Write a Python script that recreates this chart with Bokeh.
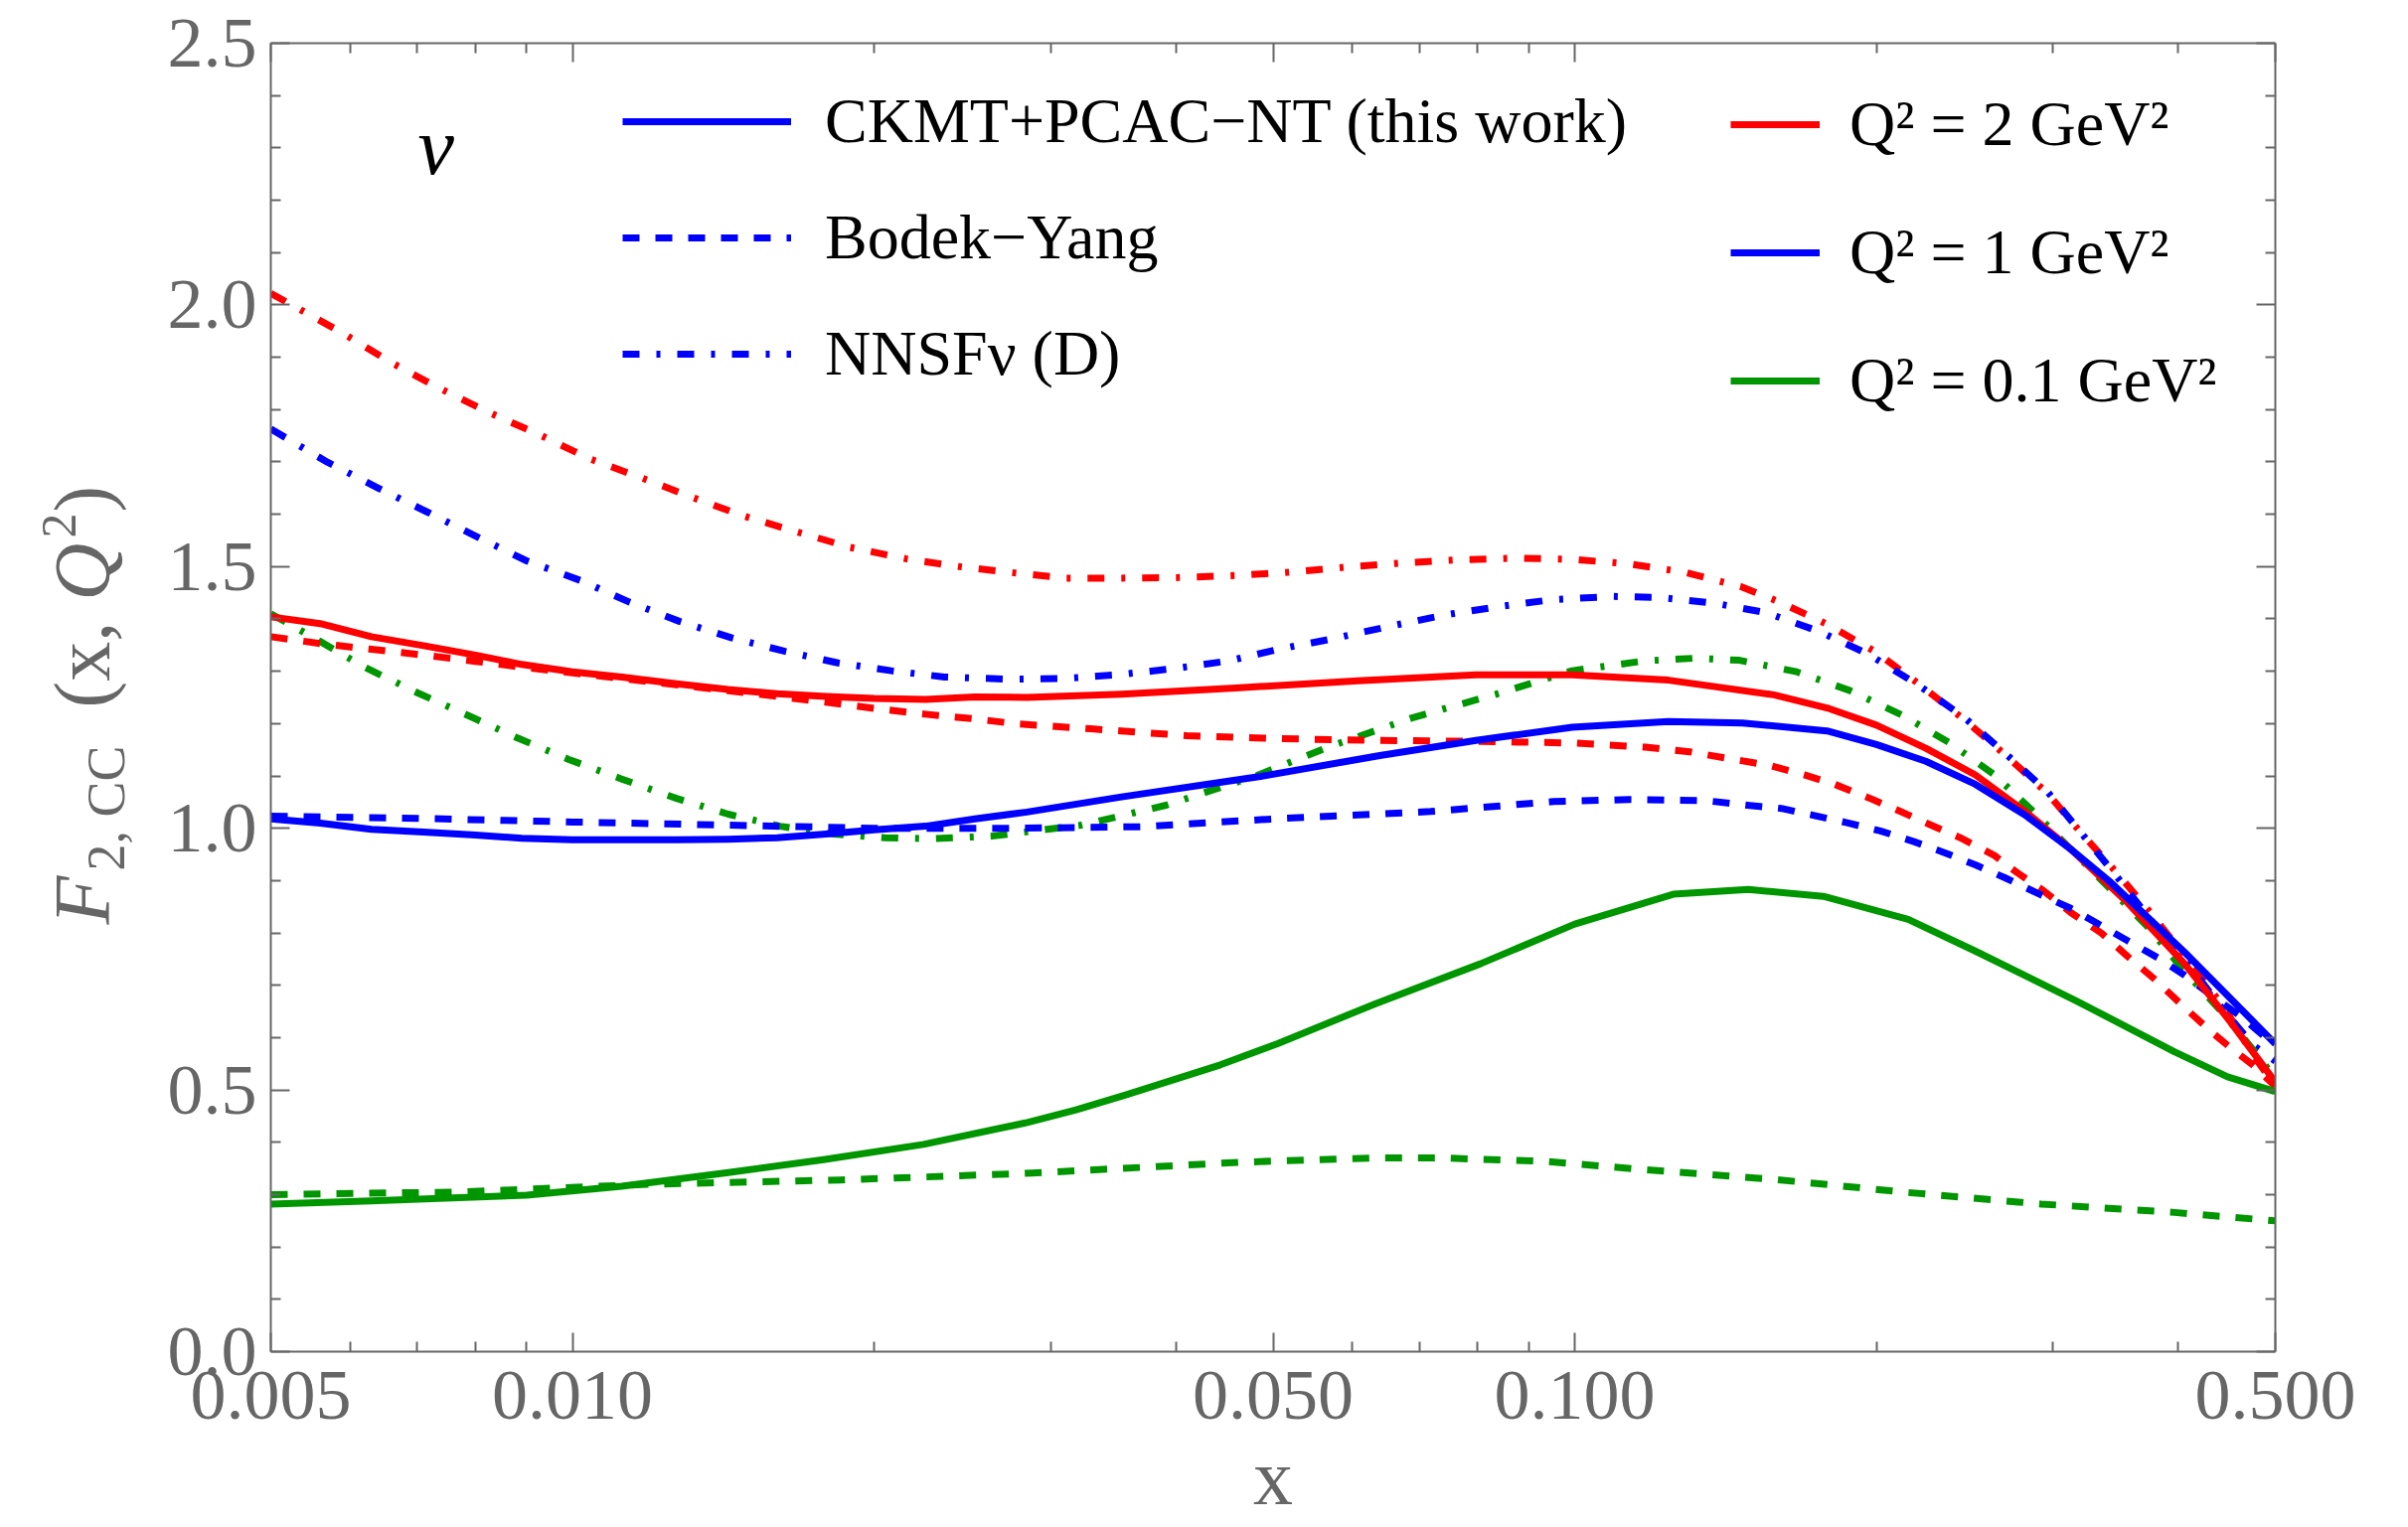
from bokeh.plotting import figure
from bokeh.layouts import row
from bokeh.models import (Range1d, LogAxis, LinearAxis, FixedTicker, PrintfTickFormatter,
                          Legend, LegendItem, Label)
from bokeh.core.properties import value
from bokeh.embed import file_html
from bokeh.resources import INLINE
from math import pi

# ---------------- data ----------------
# CKMT+PCAC-NT (solid)
x_ckmt_q2 = [0.005, 0.0056, 0.0063, 0.0071, 0.008, 0.0089, 0.01, 0.0112, 0.0127, 0.0143, 0.016, 0.0179,
             0.02, 0.0225, 0.0252, 0.0284, 0.0353, 0.0459, 0.0608, 0.0797, 0.0994, 0.124, 0.158, 0.1785,
             0.2, 0.224, 0.251, 0.281, 0.3125, 0.356, 0.406, 0.451, 0.5]
y_ckmt_q2 = [1.404, 1.391, 1.366, 1.349, 1.331, 1.313, 1.299, 1.289, 1.276, 1.265, 1.257, 1.252,
             1.248, 1.246, 1.251, 1.250, 1.256, 1.268, 1.282, 1.293, 1.293, 1.283, 1.255, 1.230,
             1.197, 1.153, 1.102, 1.033, 0.960, 0.858, 0.741, 0.630, 0.515]

x_ckmt_q1 = [0.005, 0.0056, 0.0063, 0.0071, 0.008, 0.0089, 0.01, 0.0127, 0.0143, 0.016, 0.0179, 0.02,
             0.0225, 0.0252, 0.0284, 0.0353, 0.0482, 0.0639, 0.0797, 0.0994, 0.124, 0.147, 0.1785, 0.2,
             0.224, 0.251, 0.281, 0.3125, 0.341, 0.372, 0.406, 0.451, 0.5]
y_ckmt_q1 = [1.018, 1.010, 0.998, 0.993, 0.987, 0.981, 0.978, 0.978, 0.979, 0.982, 0.989, 0.997,
             1.004, 1.018, 1.031, 1.060, 1.098, 1.139, 1.168, 1.193, 1.204, 1.201, 1.186, 1.160,
             1.128, 1.084, 1.026, 0.960, 0.900, 0.832, 0.763, 0.675, 0.588]

x_ckmt_q01 = [0.005, 0.0063, 0.009, 0.0112, 0.0143, 0.0178, 0.0224, 0.0283, 0.0318, 0.0357, 0.0443,
              0.0506, 0.0633, 0.0805, 0.1, 0.1254, 0.149, 0.177, 0.2151, 0.2506, 0.316, 0.3965, 0.448, 0.5]
y_ckmt_q01 = [0.282, 0.288, 0.299, 0.316, 0.342, 0.367, 0.396, 0.437, 0.462, 0.491, 0.548,
              0.589, 0.665, 0.741, 0.817, 0.874, 0.883, 0.870, 0.826, 0.766, 0.671, 0.573, 0.525, 0.497]

# Bodek-Yang (dashed)
x_by_q2 = [0.005, 0.0056, 0.0063, 0.0071, 0.008, 0.0089, 0.01, 0.0112, 0.0127, 0.0143, 0.016, 0.0179,
           0.02, 0.0225, 0.0252, 0.0276, 0.0329, 0.041, 0.0512, 0.0639, 0.0797, 0.0994, 0.1176, 0.1303,
           0.1447, 0.1566, 0.1694, 0.1817, 0.1966, 0.2108, 0.2261, 0.2424, 0.2623, 0.2764, 0.2939,
           0.3125, 0.3352, 0.3563, 0.3787, 0.4062, 0.4282, 0.4514, 0.4756, 0.5]
y_by_q2 = [1.366, 1.353, 1.342, 1.331, 1.319, 1.308, 1.297, 1.286, 1.274, 1.263, 1.252, 1.241,
           1.229, 1.218, 1.209, 1.200, 1.190, 1.177, 1.171, 1.168, 1.166, 1.163, 1.155, 1.146,
           1.131, 1.120, 1.102, 1.084, 1.058, 1.033, 1.007, 0.982, 0.948, 0.915, 0.880,
           0.839, 0.800, 0.755, 0.712, 0.657, 0.617, 0.580, 0.547, 0.507]

x_by_q1 = [0.005, 0.007, 0.01, 0.0143, 0.02, 0.0276, 0.0369, 0.0512, 0.0718, 0.0952, 0.1133, 0.135,
           0.1486, 0.1607, 0.1738, 0.1865, 0.2018, 0.2183, 0.2341, 0.251, 0.269, 0.291, 0.3125,
           0.3352, 0.3563, 0.3821, 0.4062, 0.4357, 0.463, 0.4924, 0.5]
y_by_q1 = [1.023, 1.019, 1.012, 1.006, 1.000, 1.000, 1.003, 1.019, 1.032, 1.051, 1.055, 1.053,
           1.044, 1.038, 1.024, 1.011, 0.995, 0.974, 0.953, 0.930, 0.905, 0.874, 0.847,
           0.814, 0.785, 0.752, 0.719, 0.675, 0.639, 0.595, 0.585]

x_by_q01 = [0.005, 0.0077, 0.012, 0.0185, 0.0287, 0.0464, 0.0633, 0.0738, 0.0928, 0.1167, 0.1585,
            0.2151, 0.2921, 0.3965, 0.5]
y_by_q01 = [0.300, 0.305, 0.320, 0.328, 0.341, 0.362, 0.370, 0.370, 0.364, 0.348, 0.329,
            0.304, 0.282, 0.266, 0.250]

# NNSFnu (D) (dot-dashed)
x_nn_q2 = [0.005, 0.0059, 0.00659, 0.00736, 0.00822, 0.00929, 0.0104, 0.01174, 0.01322, 0.0148,
           0.0167, 0.0189, 0.0215, 0.0243, 0.0276, 0.0311, 0.0353, 0.0402, 0.0459, 0.0517, 0.0592,
           0.0672, 0.0766, 0.0873, 0.0994, 0.1133, 0.1289, 0.1463, 0.1593, 0.1785, 0.2, 0.22,
           0.2446, 0.2693, 0.2965, 0.3208, 0.347, 0.3753, 0.4062, 0.4437, 0.4756, 0.5]
y_nn_q2 = [2.022, 1.946, 1.890, 1.841, 1.796, 1.751, 1.706, 1.669, 1.631, 1.597,
           1.567, 1.537, 1.515, 1.500, 1.488, 1.478, 1.478, 1.479, 1.483, 1.489, 1.499,
           1.507, 1.513, 1.516, 1.514, 1.505, 1.489, 1.462, 1.434, 1.390, 1.336, 1.277,
           1.208, 1.139, 1.066, 0.989, 0.916, 0.839, 0.755, 0.660, 0.566, 0.507]

x_nn_q1 = [0.005, 0.0057, 0.0064, 0.00715, 0.00805, 0.009, 0.0102, 0.0114, 0.0128, 0.0144, 0.0163,
           0.0184, 0.0208, 0.0235, 0.0272, 0.0308, 0.0348, 0.0398, 0.0452, 0.0506, 0.0573, 0.065,
           0.0744, 0.0843, 0.0952, 0.109, 0.1217, 0.1379, 0.1552, 0.1754, 0.1966, 0.22, 0.2446,
           0.2693, 0.2965, 0.3208, 0.347, 0.3753, 0.4062, 0.4437, 0.4756, 0.5]
y_nn_q1 = [1.763, 1.699, 1.650, 1.605, 1.556, 1.511, 1.473, 1.432, 1.395, 1.364, 1.338,
           1.316, 1.301, 1.289, 1.285, 1.286, 1.293, 1.305, 1.320, 1.342, 1.362, 1.385,
           1.408, 1.424, 1.437, 1.443, 1.441, 1.430, 1.412, 1.376, 1.332, 1.274, 1.212,
           1.142, 1.069, 0.989, 0.909, 0.825, 0.749, 0.653, 0.585, 0.555]

x_nn_q01 = [0.005, 0.0056, 0.0062, 0.007, 0.0079, 0.0088, 0.0099, 0.0112, 0.0127, 0.0143, 0.0161,
            0.0182, 0.0205, 0.0229, 0.0262, 0.0322, 0.0391, 0.0482, 0.0573, 0.0691, 0.0834, 0.0994,
            0.1176, 0.1318, 0.146, 0.1665, 0.1882, 0.2127, 0.2362, 0.2623, 0.2864, 0.3125, 0.341,
            0.372, 0.4062, 0.4437, 0.484, 0.5]
y_nn_q01 = [1.410, 1.357, 1.308, 1.259, 1.214, 1.173, 1.132, 1.094, 1.057, 1.027, 1.004,
            0.989, 0.982, 0.980, 0.985, 1.006, 1.044, 1.101, 1.158, 1.212, 1.256, 1.301,
            1.320, 1.325, 1.321, 1.299, 1.263, 1.215, 1.164, 1.102, 1.033, 0.960, 0.887,
            0.814, 0.726, 0.646, 0.558, 0.520]

x_ticks = [0.005, 0.01, 0.05, 0.1, 0.5]
x_minor = [0.006, 0.007, 0.008, 0.009, 0.02, 0.03, 0.04, 0.06, 0.07, 0.08, 0.09, 0.2, 0.3, 0.4]
y_ticks = [0.0, 0.5, 1.0, 1.5, 2.0, 2.5]
y_minor = [0.1, 0.2, 0.3, 0.4, 0.6, 0.7, 0.8, 0.9, 1.1, 1.2, 1.3, 1.4, 1.6, 1.7, 1.8, 1.9,
           2.1, 2.2, 2.3, 2.4]

model_labels = ["CKMT+PCAC\u2212NT (this work)", "Bodek\u2212Yang", "NNSF\u03bd (D)"]
q2_labels = ["Q\u00b2 = 2 GeV\u00b2", "Q\u00b2 = 1 GeV\u00b2", "Q\u00b2 = 0.1 GeV\u00b2"]

# ---------------- styling / layout ----------------
RED, BLUE, GREEN = "#ff0000", "#0000ff", "#009600"
GRAY = "#666666"
FONT = "Liberation Serif"
DASH = "17 16"
DOTDASH = "17 17 4 17"
LW = 7

W, H = 2423, 1537
LEFT_W = 150           # width of the strip holding the y title
FL, FR, FT, FB = 272, 2289, 43, 1360   # frame edges in page pixels

p = figure(width=W - LEFT_W, height=H, x_axis_type="log",
           x_range=Range1d(0.005, 0.5), y_range=Range1d(0.0, 2.5),
           output_backend="svg", toolbar_location=None,
           min_border_left=FL - LEFT_W, min_border_right=W - FR,
           min_border_top=FT, min_border_bottom=H - FB)
p.xgrid.visible = False
p.ygrid.visible = False
p.outline_line_color = None
p.background_fill_color = "white"
p.border_fill_color = "white"

xticker = FixedTicker(ticks=x_ticks, minor_ticks=x_minor)
yticker = FixedTicker(ticks=y_ticks, minor_ticks=y_minor)


def style_axis(ax, labels, ticks):
    ax.axis_line_color = GRAY
    ax.axis_line_width = 2
    ax.major_tick_line_color = GRAY
    ax.major_tick_line_width = 2
    ax.minor_tick_line_color = GRAY
    ax.minor_tick_line_width = 2
    ax.major_tick_in = 19
    ax.major_tick_out = 0
    ax.minor_tick_in = 10
    ax.minor_tick_out = 0
    if labels:
        ax.major_label_text_font = FONT
        ax.major_label_text_font_size = "72px"
        ax.major_label_text_color = GRAY
    else:
        ax.major_label_overrides = {t: "" for t in ticks}
        ax.major_label_text_font_size = "1px"
        ax.major_label_standoff = 0


bx = p.xaxis[0]
bx.ticker = xticker
bx.formatter = PrintfTickFormatter(format="%.3f")
style_axis(bx, True, x_ticks)
bx.major_label_standoff = 20
bx.axis_label = "x"
bx.axis_label_text_font = FONT
bx.axis_label_text_font_size = "80px"
bx.axis_label_text_font_style = "normal"
bx.axis_label_text_color = GRAY
bx.axis_label_standoff = 12

ly = p.yaxis[0]
ly.ticker = yticker
ly.formatter = PrintfTickFormatter(format="%.1f")
style_axis(ly, True, y_ticks)
ly.major_label_standoff = 14

tx = LogAxis(ticker=xticker)
style_axis(tx, False, x_ticks)
p.add_layout(tx, "above")
ry = LinearAxis(ticker=yticker)
style_axis(ry, False, y_ticks)
p.add_layout(ry, "right")

series = {
    "nn_q2": (x_nn_q2, y_nn_q2, RED, DOTDASH),
    "nn_q1": (x_nn_q1, y_nn_q1, BLUE, DOTDASH),
    "nn_q01": (x_nn_q01, y_nn_q01, GREEN, DOTDASH),
    "by_q2": (x_by_q2, y_by_q2, RED, DASH),
    "by_q1": (x_by_q1, y_by_q1, BLUE, DASH),
    "by_q01": (x_by_q01, y_by_q01, GREEN, DASH),
    "ck_q2": (x_ckmt_q2, y_ckmt_q2, RED, "solid"),
    "ck_q1": (x_ckmt_q1, y_ckmt_q1, BLUE, "solid"),
    "ck_q01": (x_ckmt_q01, y_ckmt_q01, GREEN, "solid"),
}
rend = {}
for k, (xs, ys, c, d) in series.items():
    rend[k] = p.line(xs, ys, line_color=c, line_width=LW, line_dash=d, line_join="round")


def make_legend(labels, rs, loc, gw, standoff, spacing):
    leg = Legend(items=[LegendItem(label=l, renderers=[r]) for l, r in zip(labels, rs)],
                 location=loc, orientation="vertical",
                 label_text_font=FONT, label_text_font_size="64px", label_text_color="black",
                 glyph_width=gw, glyph_height=20, label_standoff=standoff, spacing=spacing,
                 padding=0, margin=0, border_line_color=None, background_fill_alpha=0.0)
    p.add_layout(leg)


make_legend(model_labels, [rend["ck_q1"], rend["by_q1"], rend["nn_q1"]], (354, 967), 170, 34, 43)
make_legend(q2_labels, [rend["ck_q2"], rend["ck_q1"], rend["ck_q01"]], (1469, 940), 90, 30, 55)


def to_data(xf, yf):
    xd = 0.005 * 10 ** ((xf - FL) / ((FR - FL) / 2.0))
    yd = 2.5 * (FB - yf) / (FB - FT)
    return xd, yd


nx, ny = to_data(420, 147)
p.add_layout(Label(x=nx, y=ny, text="\u03bd", text_align="left", text_baseline="alphabetic",
                   text_font=FONT, text_font_size="82px", text_color="black",
                   text_font_style="italic"))

# ---- strip with the rotated y-axis title ----
# its frame is aligned with the main frame (rows align frames), so y data = page pixels
lab = figure(width=LEFT_W, height=H, x_range=Range1d(0, LEFT_W), y_range=Range1d(FB, FT),
             output_backend="svg", toolbar_location=None, x_axis_location=None,
             y_axis_location=None, min_border=0)
lab.xgrid.visible = False
lab.ygrid.visible = False
lab.outline_line_color = None
ylab = [("F", 82, 930, 80, "italic"),
        ("2, CC", 106, 876, 54, "normal"),
        ("(x, ", 82, 712, 80, "normal"),
        ("Q", 82, 604, 80, "italic"),
        ("2", 59, 541, 50, "normal"),
        (")", 82, 515, 80, "normal")]
for t, xf, yf, s, st in ylab:
    lab.text(x=[xf], y=[yf], text=[t], angle=pi / 2, text_align="left",
             text_baseline="alphabetic", text_font=value(FONT), text_font_size=f"{s}px",
             text_font_style=st, text_color=GRAY)

layout = row(lab, p, spacing=0)
open("out.html", "w").write(file_html(layout, INLINE))
